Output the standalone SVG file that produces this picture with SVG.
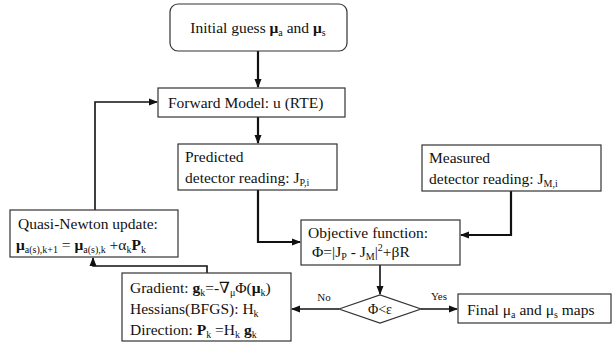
<svg xmlns="http://www.w3.org/2000/svg" width="613" height="347" viewBox="0 0 613 347">
<style>
.box{fill:#fff;stroke:#333;stroke-width:1.2}
.t{font-size:15.5px;fill:#111}
.s{font-size:10px}
.b{font-weight:bold}
.lbl{font-size:11px;fill:#111}
.c{fill:none;stroke:#111;stroke-width:2.2;marker-end:url(#ah)}
.c2{fill:none;stroke:#111;stroke-width:1.6;marker-end:url(#ah)}
</style>
<defs>
<marker id="ah" markerWidth="9" markerHeight="8" refX="8" refY="4" orient="auto" markerUnits="userSpaceOnUse"><path d="M0,0.5 L9,4 L0,7.5 z" fill="#111"/></marker>
</defs>
<rect width="613" height="347" fill="#fff"/>
<g font-family="Liberation Serif, Tinos, Times New Roman, DejaVu Serif, Noto Serif, FreeSerif, Times, serif">
<g id="connectors">
<path class="c" d="M258,51 V87"/>
<path class="c" d="M258,117 V143"/>
<path class="c" d="M258,190 V242 H300"/>
<path class="c" d="M511,191 V235 H461"/>
<path class="c2" d="M380,265 V294"/>
<path class="c2" d="M421,309 H457"/>
<path class="c2" d="M339,309 H292"/>
<path class="c2" d="M207,273 V266 H93 V258"/>
<path class="c2" d="M95,210 V102 H157"/>
<text class="lbl" x="324" y="301" text-anchor="middle">No</text>
<text class="lbl" x="439" y="300" text-anchor="middle">Yes</text>
</g>
<g id="initial">
<rect class="box" x="170" y="4" width="177" height="47" rx="8"/>
<text class="t" x="258" y="33" text-anchor="middle">Initial guess <tspan class="b">μ</tspan><tspan class="s" dy="3">a</tspan><tspan dy="-3"> and </tspan><tspan class="b">μ</tspan><tspan class="s" dy="3">s</tspan></text>
</g>
<g id="forward">
<rect class="box" x="158" y="88" width="187" height="29"/>
<text class="t" x="168" y="108">Forward Model: u (RTE)</text>
</g>
<g id="predicted">
<rect class="box" x="178" y="144" width="159" height="46"/>
<text class="t" x="185" y="162">Predicted</text>
<text class="t" x="185" y="183">detector reading: J<tspan class="s" dy="3">P,i</tspan></text>
</g>
<g id="measured">
<rect class="box" x="422" y="145" width="179" height="46"/>
<text class="t" x="429" y="163">Measured</text>
<text class="t" x="429" y="184">detector reading: J<tspan class="s" dy="3">M,i</tspan></text>
</g>
<g id="objective">
<rect class="box" x="301" y="220" width="159" height="45"/>
<text class="t" x="308" y="238">Objective function:</text>
<text class="t" x="312" y="257">Φ=|J<tspan class="s" dy="3">P</tspan><tspan dy="-3"> - J</tspan><tspan class="s" dy="3">M</tspan><tspan dy="-3">|</tspan><tspan class="s" dy="-6">2</tspan><tspan dy="6">+βR</tspan></text>
</g>
<g id="decision">
<polygon class="box" points="339,309 380,295 421,309 380,323"/>
<text class="t" x="380" y="314" text-anchor="middle" style="font-size:14px">Φ&lt;ε</text>
</g>
<g id="final">
<rect class="box" x="458" y="294" width="153" height="29"/>
<text class="t" x="467" y="315">Final μ<tspan class="s" dy="3">a</tspan><tspan dy="-3"> and μ</tspan><tspan class="s" dy="3">s</tspan><tspan dy="-3"> maps</tspan></text>
</g>
<g id="quasinewton">
<rect class="box" x="10" y="210" width="168" height="47"/>
<text class="t" x="18" y="229">Quasi-Newton update:</text>
<text class="t" x="16" y="250"><tspan class="b">μ</tspan><tspan class="s" dy="3">a(s),k+1</tspan><tspan dy="-3"> = </tspan><tspan class="b">μ</tspan><tspan class="s" dy="3">a(s),k</tspan><tspan dy="-3"> +α</tspan><tspan class="s" dy="3">k</tspan><tspan class="b" dy="-3">P</tspan><tspan class="s" dy="3">k</tspan></text>
</g>
<g id="gradient">
<rect class="box" x="122" y="273" width="169" height="68"/>
<text class="t" x="130" y="293">Gradient: <tspan class="b">g</tspan><tspan class="s" dy="3">k</tspan><tspan dy="-3">=-∇</tspan><tspan class="s" dy="3">μ</tspan><tspan dy="-3">Φ(</tspan><tspan class="b">μ</tspan><tspan class="s" dy="3">k</tspan><tspan dy="-3">)</tspan></text>
<text class="t" x="130" y="314">Hessians(BFGS): H<tspan class="s" dy="3">k</tspan></text>
<text class="t" x="130" y="335">Direction: <tspan class="b">P</tspan><tspan class="s" dy="3">k</tspan><tspan dy="-3"> =H</tspan><tspan class="s" dy="3">k</tspan><tspan dy="-3"> </tspan><tspan class="b">g</tspan><tspan class="s" dy="3">k</tspan></text>
</g>
</g>
</svg>
